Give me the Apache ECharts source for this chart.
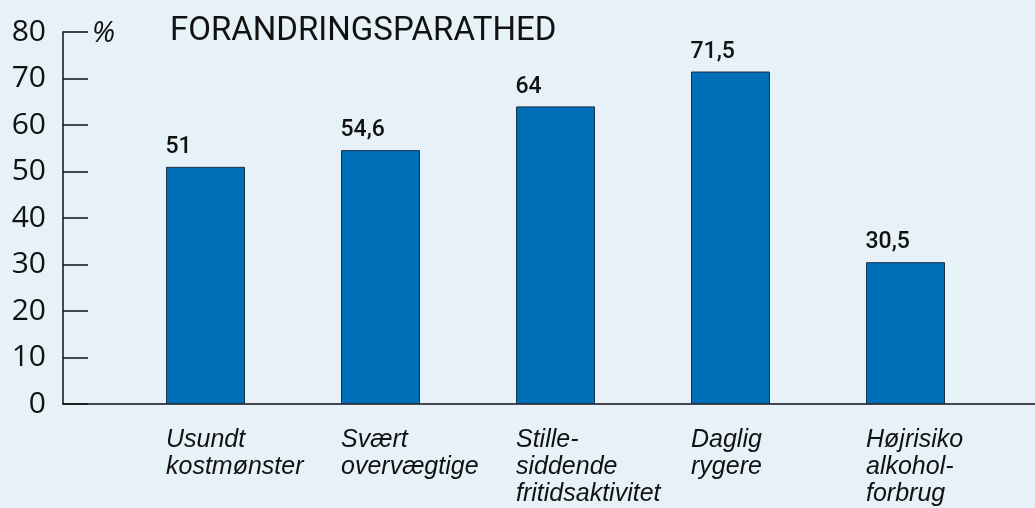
<!DOCTYPE html>
<html>
<head>
<meta charset="utf-8">
<script src="https://cdn.jsdelivr.net/npm/echarts@6/dist/echarts.min.js"></script>
<style>
    html, body { margin: 0; padding: 0; background: #e6f1f8; }
    #main { width: 1035px; height: 508px; }
</style>
</head>
<body>
<div id="main"></div>
<script>
var categories = ['Usundt\nkostmønster', 'Svært\novervægtige', 'Stille-\nsiddende\nfritidsaktivitet', 'Daglig\nrygere', 'Højrisiko\nalkohol-\nforbrug'];
var values = [51, 54.6, 64, 71.5, 30.5];
var yMin = 0;
var yMax = 80;
var yStep = 10;

var myChart;

document.addEventListener("DOMContentLoaded", function()
{
    myChart = echarts.init(document.getElementById('main'), null, {
        renderer: 'canvas'
    });

    var option = {
        backgroundColor: '#e6f1f8',
        animation: false,
        title: [
            {
                text: 'FORANDRINGSPARATHED',
                left: 165,
                top: 10,
                textStyle: { fontFamily: 'Roboto', fontWeight: 'normal', fontSize: 33, color: '#111' }
            },
            {
                text: '%',
                left: 87,
                top: 14,
                textStyle: { fontFamily: 'Open Sans', fontStyle: 'italic', fontWeight: 'normal', fontSize: 29, color: '#111' }
            }
        ],
        grid: [
            // bars
            { left: 118, width: 875, top: 32, bottom: 104 },
            // axes
            { left: 63, right: 0, top: 32, bottom: 104 },
            // category labels, lined up with bar left edges
            { left: 166, width: 700, top: 32, bottom: 104 }
        ],
        xAxis: [
            {
                gridIndex: 0,
                type: 'category',
                data: categories,
                show: false
            },
            {
                gridIndex: 1,
                type: 'value',
                min: 0,
                max: 1,
                axisLine: { show: true, onZero: false, lineStyle: { color: '#111', width: 1.5 } },
                axisTick: { show: false },
                axisLabel: { show: false },
                splitLine: { show: false }
            },
            {
                gridIndex: 2,
                type: 'category',
                data: categories,
                boundaryGap: false,
                axisLine: { show: false },
                axisTick: { show: false },
                axisLabel: {
                    interval: 0,
                    hideOverlap: false,
                    align: 'left',
                    verticalAlign: 'top',
                    margin: 23,
                    lineHeight: 27,
                    fontFamily: 'Liberation Sans',
                    fontStyle: 'italic',
                    fontSize: 25,
                    color: '#111'
                }
            }
        ],
        yAxis: [
            {
                gridIndex: 0,
                type: 'value',
                min: yMin,
                max: yMax,
                show: false
            },
            {
                gridIndex: 1,
                type: 'value',
                min: yMin,
                max: yMax,
                interval: yStep,
                axisLine: { show: true, lineStyle: { color: '#111', width: 1.5 } },
                axisTick: { show: true, inside: true, length: 25, lineStyle: { color: '#111', width: 1.5 } },
                axisLabel: { margin: 17, fontFamily: 'Open Sans', fontSize: 30, color: '#111' },
                splitLine: { show: false }
            },
            {
                gridIndex: 2,
                type: 'value',
                min: yMin,
                max: yMax,
                show: false
            }
        ],
        series: [
            {
                type: 'bar',
                xAxisIndex: 0,
                yAxisIndex: 0,
                data: values,
                barWidth: 79,
                itemStyle: { color: '#006fba', borderColor: '#1c3046', borderWidth: 1 },
                label: {
                    show: true,
                    position: 'top',
                    align: 'left',
                    offset: [-40, 0],
                    distance: 8,
                    fontFamily: 'Roboto',
                    fontWeight: 500,
                    fontSize: 23,
                    color: '#111',
                    formatter: function (p) { return String(p.value).replace('.', ','); }
                }
            }
        ]
    };

    myChart.setOption(option);
});
</script>
</body>
</html>
